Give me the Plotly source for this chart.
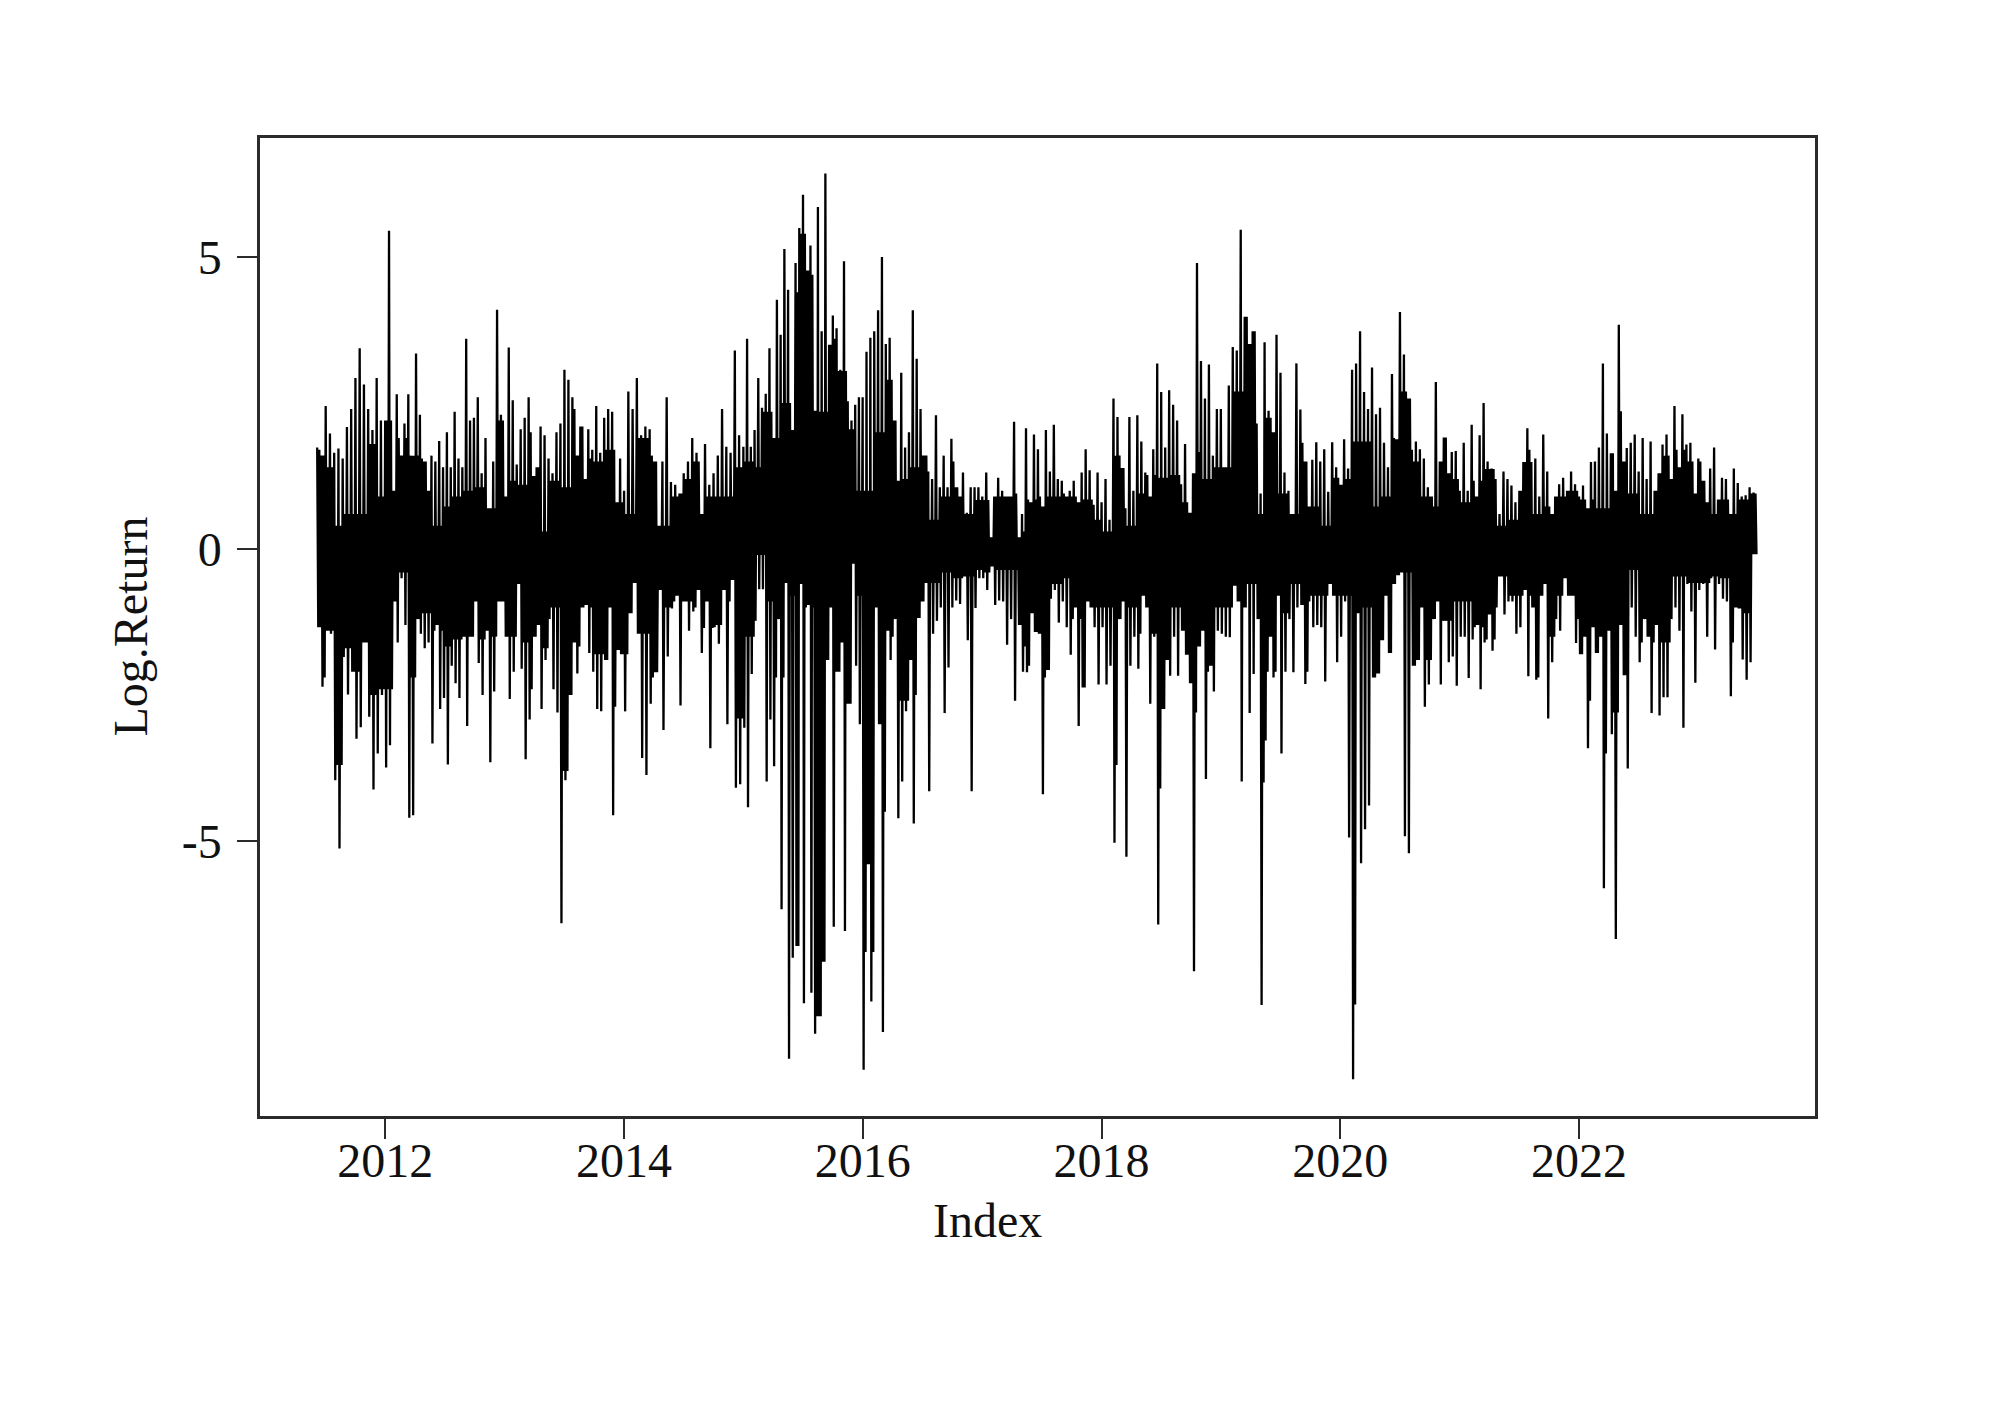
import pandas as pd
import plotly.graph_objects as go

# upper / lower spike tips of the return series, by calendar year
high_2011 = [1.74, 1.6, 2.45, 1.98, 1.65, 1.72, 1.55, 2.09, 2.40, 2.93, 3.44, 2.82, 2.40, 2.04, 2.93, 2.2]
low_2011 = [-1.34, -2.36, -1.4, -1.45, -3.96, -5.13, -1.85, -2.49, -2.1, -3.25, -3.05, -1.6, -2.87, -4.12, -3.5, -2.5]
high_2012 = [2.2, 5.45, 1.0, 2.65, 1.6, 2.15, 2.65, 1.6, 3.35, 2.30, 1.5, 1.0, 1.6, 1.5, 1.85, 1.4, 2.0, 1.4, 2.35, 1.55,
             1.4, 3.6, 2.2, 2.25, 2.6, 1.3, 1.9, 0.7, 1.5, 4.1, 2.3]
low_2012 = [-3.74, -3.36, -0.9, -1.6, -0.5, -1.3, -4.6, -4.56, -1.2, -1.45, -1.7, -1.6, -3.33, -1.3, -2.74, -2.55, -3.69,
            -2.0, -2.3, -2.55, -1.5, -3.03, -1.5, -0.9, -1.95, -2.5, -1.4, -3.65, -2.44, -0.9, -0.9]
high_2013 = [0.9, 3.45, 2.55, 1.45, 2.05, 2.25, 2.6, 1.25, 1.4, 2.1, 1.95, 1.55, 1.3, 2.0, 2.15, 3.07, 2.9, 2.6, 1.6, 2.1,
             1.2, 2.05, 1.7, 2.45, 1.65, 2.25, 2.4, 2.35, 0.8, 1.55]
low_2013 = [-1.5, -2.57, -2.1, -0.6, -2.05, -3.6, -2.92, -1.5, -1.3, -2.74, -1.9, -1.2, -2.4, -2.8, -6.41, -3.96, -2.5,
            -1.6, -2.13, -1.0, -0.96, -1.78, -2.1, -2.74, -2.78, -1.9, -1.0, -4.56, -1.73, -1.8]
high_2014 = [1.0, 2.7, 2.4, 2.93, 1.95, 2.1, 2.05, 1.5, 0.4, 1.5, 2.6, 1.15, 1.1, 0.95, 1.3, 1.5, 1.9, 1.65, 0.6, 1.8,
             1.1, 1.3, 1.6, 2.4, 1.75, 1.65, 3.4, 1.95]
low_2014 = [-2.78, -1.1, -0.58, -1.45, -3.58, -3.87, -2.65, -2.11, -0.7, -3.1, -1.84, -1.02, -0.8, -2.68, -0.9, -1.4,
            -1.07, -0.7, -1.78, -0.9, -3.41, -1.34, -1.62, -0.7, -3.0, -0.53, -4.09, -4.03]
high_2015 = [1.75, 3.6, 1.75, 2.04, 2.93, 2.42, 2.66, 3.44, 1.9, 4.27, 3.67, 5.14, 4.44, 2.04, 4.9, 5.5, 6.07, 4.77, 5.2,
             2.37, 5.86, 3.73, 6.43, 3.5, 4.0, 3.78, 3.07, 4.93, 2.53, 2.2, 2.47, 2.6]
low_2015 = [-3.06, -4.42, -2.14, -1.23, -0.69, -0.69, -3.98, -2.92, -3.72, -1.2, -6.17, -0.58, -8.73, -7.0, -6.8, -0.6,
            -7.78, -0.96, -7.6, -8.3, -8.0, -7.07, -1.9, -1.0, -6.47, -2.1, -1.6, -6.54, -2.65, -0.25, -2.0, -3.0]
high_2016 = [2.6, 3.38, 3.62, 3.73, 4.09, 5.0, 3.51, 3.62, 2.2, 1.17, 3.02, 1.74, 2.0, 4.09, 3.26, 2.4, 1.6, 1.33, 1.2,
             2.29, 1.06, 1.6, 1.06, 1.89, 1.06, 0.9, 1.31, 0.62, 1.06, 1.06, 1.06]
low_2016 = [-8.92, -5.4, -7.75, -1.0, -3.0, -8.27, -1.4, -1.9, -1.2, -4.61, -3.98, -2.78, -1.9, -4.7, -1.18, -0.9, -0.58,
            -4.15, -1.45, -1.23, -1.0, -2.81, -2.03, -1.0, -0.88, -0.94, -0.47, -1.56, -4.15, -1.01, -0.5]
high_2017 = [0.9, 1.31, 0.2, 0.9, 1.22, 1.0, 0.9, 0.9, 2.18, 0.2, 0.6, 2.07, 0.8, 1.96, 1.71, 0.73, 2.04, 1.33, 2.13, 1.2,
             1.17, 0.9, 1.0, 1.17, 0.8, 1.31, 1.71, 1.35, 0.76, 1.31]
low_2017 = [-0.5, -0.7, -0.3, -0.96, -0.88, -0.9, -1.64, -1.2, -2.6, -1.3, -2.1, -2.11, -1.1, -1.42, -1.45, -4.2, -2.07,
            -0.85, -0.7, -1.26, -0.9, -1.34, -1.81, -1.0, -3.03, -2.37, -0.9, -1.0, -1.34, -2.32]
high_2018 = [0.8, 1.2, 0.5, 2.58, 2.26, 1.39, 0.7, 2.26, 1.0, 2.29, 1.84, 1.31, 0.9, 1.71, 3.18, 2.69, 1.74, 2.72, 2.47,
             2.2, 1.11, 1.8, 0.62, 1.3, 4.9, 3.22, 2.58, 3.16, 1.6, 2.4]
low_2018 = [-1.34, -2.32, -2.0, -5.03, -1.2, -0.9, -5.27, -2.0, -1.5, -2.05, -0.8, -1.0, -2.65, -1.5, -6.43, -2.74, -1.9,
            -2.17, -1.5, -2.17, -1.4, -1.81, -2.3, -7.23, -1.67, -1.4, -3.94, -2.0, -2.44, -1.4]
high_2019 = [2.4, 1.4, 2.8, 3.46, 3.4, 5.47, 3.98, 3.51, 3.73, 2.15, 0.95, 3.54, 2.37, 2.0, 3.67, 3.02, 1.31, 1.0, 0.6,
             3.18, 2.39, 1.5, 0.73, 1.53, 1.83, 1.5, 1.71, 0.98, 1.83, 1.4]
low_2019 = [-1.45, -1.5, -1.51, -0.63, -0.9, -3.98, -1.0, -2.81, -2.14, -1.2, -7.81, -3.28, -1.5, -2.2, -0.8, -3.5, -2.1,
            -1.2, -2.11, -1.0, -0.96, -2.31, -0.9, -1.34, -1.3, -1.34, -2.27, -0.6, -0.8, -1.94]
high_2020 = [1.1, 1.88, 1.38, 3.07, 3.18, 3.73, 2.69, 2.4, 3.11, 2.31, 2.42, 1.82, 1.4, 3.0, 1.88, 4.06, 3.33, 2.58, 1.7,
             1.84, 1.71, 1.55, 1.06, 0.9, 2.86, 1.5, 1.91, 1.3, 1.66, 1.68]
low_2020 = [-1.5, -0.9, -4.94, -9.08, -1.1, -5.38, -4.8, -4.39, -2.2, -2.13, -1.56, -0.8, -1.78, -0.6, -0.45, -0.4, -4.92,
            -5.21, -2.0, -1.9, -1.0, -2.7, -2.32, -1.2, -0.9, -2.32, -1.23, -1.94, -1.84, -2.34]
high_2021 = [1.0, 1.82, 1.0, 2.13, 0.9, 1.95, 2.5, 1.5, 1.38, 1.2, 0.6, 1.33, 1.2, 1.09, 0.8, 1.0, 1.49, 2.07, 1.49, 1.55,
             0.9, 1.96, 1.33, 0.6, 0.9, 1.11, 1.22, 1.0, 1.33, 1.11]
low_2021 = [-1.5, -1.5, -2.21, -1.55, -1.3, -2.4, -1.6, -1.12, -1.74, -1.0, -0.47, -1.12, -0.9, -0.9, -1.45, -1.34, -0.7,
            -2.18, -1.0, -2.24, -0.8, -0.6, -2.9, -1.94, -1.2, -1.4, -0.5, -0.8, -0.8, -1.61]
high_2022 = [0.9, 1.09, 0.7, 1.49, 1.5, 1.74, 3.18, 1.98, 1.64, 1.0, 3.84, 1.5, 1.73, 1.82, 1.96, 1.33, 1.9, 1.2, 1.84,
             1.0, 1.3, 1.79, 1.96, 1.2, 2.45, 1.4, 2.31, 1.79, 1.82, 0.95]
low_2022 = [-1.8, -1.5, -3.41, -1.34, -1.78, -1.5, -5.81, -1.4, -3.17, -6.68, -1.3, -2.16, -3.76, -1.0, -1.5, -1.94, -1.2,
            -1.5, -2.81, -1.3, -2.85, -2.54, -2.54, -1.2, -1.0, -1.4, -3.06, -0.6, -1.07, -2.29]
high_2023 = [1.55, 1.17, 0.8, 1.38, 1.74, 0.85, 1.22, 1.2, 0.6, 1.38, 1.13, 0.9, 0.92, 1.06, 0.97]
low_2023 = [-0.7, -0.6, -1.5, -0.5, -1.72, -0.6, -0.85, -0.9, -2.52, -1.0, -1.02, -1.89, -2.24, -1.94, -0.09]

# edges of the solid black band between the spikes, coarser than the tips
band_hi_2011 = [1.7, 1.4, 0.4, 0.6, 0.6, 0.6, 1.8, 0.9]
band_lo_2011 = [-2.2, -1.4, -3.7, -1.7, -2.1, -1.6, -2.5, -2.4]
band_hi_2012 = [2.2, 1.9, 1.6, 1.55, 0.4, 0.73, 0.9, 1.0, 1.06, 0.7, 2.2]
band_lo_2012 = [-2.4, -0.4, -2.2, -1.1, -1.4, -1.67, -1.55, -1.5, -1.55, -1.5, -2.3]
band_hi_2013 = [1.17, 1.1, 2.0, 0.3, 1.17, 1.06, 2.4, 1.55, 1.5, 1.7, 0.8]
band_lo_2013 = [-1.5, -1.6, -2.4, -1.7, -1.0, -3.8, -1.67, -1.0, -1.8, -2.7, -1.9]
band_hi_2014 = [0.6, 1.9, 1.6, 0.4, 0.9, 1.2, 1.5, 0.9, 0.9, 0.9, 1.4]
band_lo_2014 = [-1.8, -1.45, -2.2, -1.0, -0.9, -0.9, -1.0, -1.35, -1.3, -0.9, -2.9]
band_hi_2015 = [1.5, 1.4, 2.35, 1.9, 2.5, 4.4, 5.4, 4.7, 2.35, 3.6, 3.05, 2.05, 1.0]
band_lo_2015 = [-1.5, -0.1, -0.9, -2.2, -0.8, -6.8, -1.0, -8.0, -3.1, -2.1, -2.65, -0.8]
band_hi_2016 = [1.0, 2.0, 2.9, 1.2, 1.4, 1.6, 0.5, 0.9, 1.5, 0.6, 0.84]
band_lo_2016 = [-6.9, -4.5, -1.5, -2.6, -2.5, -1.2, -0.58, -0.4, -0.5, -0.47, -0.36]
band_hi_2017 = [0.84, 0.9, 0.95, 0.3, 0.85, 0.9, 0.9, 0.95, 0.9, 0.85, 0.5]
band_lo_2017 = [-0.4, -0.36, -0.36, -1.67, -2.0, -2.2, -0.6, -0.5, -1.2, -2.6, -1.0]
band_hi_2018 = [0.3, 1.6, 0.4, 0.95, 1.27, 1.22, 1.27, 0.8, 1.66, 1.2, 1.4]
band_lo_2018 = [-1.0, -3.7, -1.0, -1.45, -1.45, -4.1, -1.0, -2.17, -2.8, -2.1, -1.0]
band_hi_2019 = [1.4, 2.7, 3.98, 0.6, 2.25, 0.95, 0.6, 1.82, 0.73, 0.4, 1.22]
band_lo_2019 = [-1.0, -1.0, -0.6, -4.0, -2.1, -1.1, -0.6, -2.1, -0.8, -0.8, -0.8]
band_hi_2020 = [1.2, 1.84, 1.84, 0.73, 0.9, 1.9, 2.7, 1.5, 0.9, 0.73, 2.7, 1.2]
band_lo_2020 = [-0.8, -7.8, -1.0, -4.35, -1.8, -0.9, -0.4, -2.45, -1.9, -2.3, -1.23, -0.9]
band_hi_2021 = [0.8, 1.17, 1.37, 0.4, 0.5, 1.7, 0.6, 0.73, 0.9, 1.0]
band_lo_2021 = [-0.9, -1.34, -1.55, -0.47, -0.8, -0.8, -2.2, -1.5, -0.8, -1.2]
band_hi_2022 = [0.85, 0.7, 2.36, 0.95, 0.6, 1.6, 1.7, 1.5]
band_lo_2022 = [-2.6, -3.5, -2.8, -0.36, -1.6, -1.6, -0.47, -0.58]
band_hi_2023 = [1.5, 0.6, 0.85, 0.6, 0.85, 0.95]
band_lo_2023 = [-0.58, -0.47, -0.5, -1.6, -1.1, -0.09]

highs = [high_2011, high_2012, high_2013, high_2014, high_2015, high_2016, high_2017,
         high_2018, high_2019, high_2020, high_2021, high_2022, high_2023]
lows = [low_2011, low_2012, low_2013, low_2014, low_2015, low_2016, low_2017,
        low_2018, low_2019, low_2020, low_2021, low_2022, low_2023]
band_his = [band_hi_2011, band_hi_2012, band_hi_2013, band_hi_2014, band_hi_2015, band_hi_2016, band_hi_2017,
            band_hi_2018, band_hi_2019, band_hi_2020, band_hi_2021, band_hi_2022, band_hi_2023]
band_los = [band_lo_2011, band_lo_2012, band_lo_2013, band_lo_2014, band_lo_2015, band_lo_2016, band_lo_2017,
            band_lo_2018, band_lo_2019, band_lo_2020, band_lo_2021, band_lo_2022, band_lo_2023]

period_edges = ["2011-06-07", "2012-01-01", "2013-01-01", "2014-01-01", "2015-01-01", "2016-01-01", "2017-01-01",
                "2018-01-01", "2019-01-01", "2020-01-01", "2021-01-01", "2022-01-01", "2023-01-01", "2023-07-01"]

year_ticks = ["2012-01-01", "2014-01-01", "2016-01-01", "2018-01-01", "2020-01-01", "2022-01-01"]
year_labels = ["2012", "2014", "2016", "2018", "2020", "2022"]
y_ticks = [-5, 0, 5]
y_labels = ["-5", "0", "5"]

FONT = "Liberation Serif"
INK = "#2b2b2b"

dates = []
returns = []
for i in range(len(highs)):
    pairs = list(zip(highs[i], lows[i]))
    n = len(pairs)
    stamps = pd.date_range(period_edges[i], period_edges[i + 1], periods=4 * n + 1)[:-1]
    dates.extend(stamps)
    for k, (hi, lo) in enumerate(pairs):
        # a big move, then a small one that stays inside the band
        band_hi = min(band_his[i][k * len(band_his[i]) // n], hi)
        band_lo = max(band_los[i][k * len(band_los[i]) // n], lo)
        returns.extend([hi, lo, band_hi, band_lo])

fig = go.Figure()
fig.add_trace(go.Scatter(x=dates, y=returns, mode="lines", line=dict(color="#000000", width=2.3), showlegend=False))

fig.update_layout(
    width=2000,
    height=1417,
    autosize=False,
    margin=dict(l=260, r=185, t=138, b=301),
    paper_bgcolor="white",
    plot_bgcolor="white",
    font=dict(family=FONT, size=48, color="#111111"),
    xaxis=dict(
        type="date",
        range=["2010-12-14", "2023-12-24"],
        tickvals=year_ticks,
        ticktext=year_labels,
        ticks="outside",
        ticklen=20,
        tickwidth=2,
        tickcolor=INK,
        ticklabelstandoff=-19,
        showgrid=False,
        zeroline=False,
        showline=True,
        mirror=True,
        linecolor=INK,
        linewidth=2.5,
    ),
    yaxis=dict(
        range=[-9.71, 7.04],
        tickvals=y_ticks,
        ticktext=y_labels,
        ticks="outside",
        ticklen=20,
        tickwidth=2,
        tickcolor=INK,
        ticklabelstandoff=6,
        showgrid=False,
        zeroline=False,
        showline=True,
        mirror=True,
        linecolor=INK,
        linewidth=2.5,
    ),
    annotations=[
        dict(text="Index", xref="paper", yref="paper", x=0.4676, y=-0.1355, showarrow=False,
             font=dict(family=FONT, size=48, color="#111111")),
        dict(text="Log.Return", xref="paper", yref="paper", x=-0.1022, y=0.5, textangle=-90, showarrow=False,
             font=dict(family=FONT, size=48, color="#111111")),
    ],
)

fig.write_html("out.html", config={"displayModeBar": False}, post_script="document.body.style.margin='0';")
